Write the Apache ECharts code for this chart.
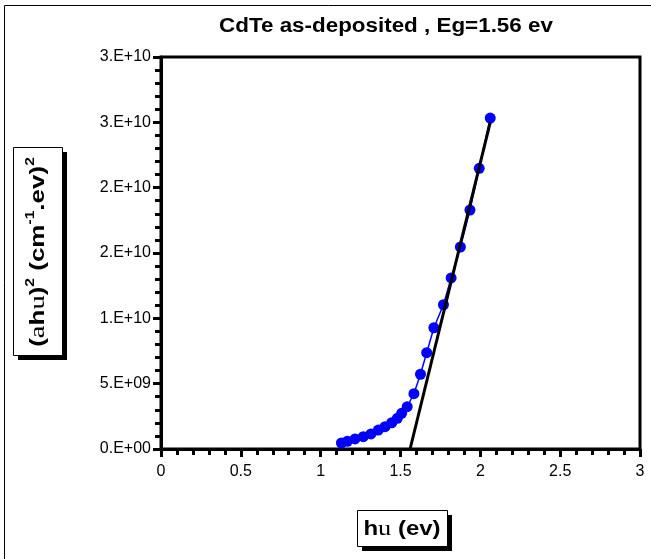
<!DOCTYPE html>
<html>
<head>
<meta charset="utf-8">
<script src="https://cdn.jsdelivr.net/npm/echarts@6/dist/echarts.min.js"></script>
<style>
  html, body { margin: 0; padding: 0; background: #fff; }
  #main { width: 651px; height: 559px; }
</style>
</head>
<body>
<div id="main"></div>
<script>
// measured points (photon energy in eV, (a h u)^2)
const hv = [1.130, 1.167, 1.215, 1.267, 1.315, 1.361, 1.403, 1.445, 1.480, 1.507,
  1.542, 1.584, 1.625, 1.664, 1.709, 1.769, 1.817, 1.875, 1.935, 1.993, 2.062];
const ahv2 = [0.46e9, 0.59e9, 0.77e9, 0.94e9, 1.15e9, 1.45e9, 1.71e9, 2.01e9, 2.35e9, 2.73e9,
  3.24e9, 4.23e9, 5.72e9, 7.37e9, 9.28e9, 11.04e9, 13.09e9, 15.46e9, 18.29e9, 21.48e9, 25.33e9];
// straight-line fit, meets the x axis at Eg
const fitX = [1.56, 2.062];
const fitY = [0, 2.5e10];

const titleText = "CdTe as-deposited , Eg=1.56 ev";

const chart = echarts.init(document.getElementById("main"));

// Excel style "0.E+00" labels
function sciLabel(v) {
  if (v === 0) return "0.E+00";
  let e = Math.floor(Math.log10(v));
  let m = Math.round(v / Math.pow(10, e));
  if (m === 10) { m = 1; e += 1; }
  return m + ".E+" + (e < 10 ? "0" + e : e);
}

const sans = "Liberation Sans, Arial, sans-serif";
const serif = "Liberation Serif, Times New Roman, serif";

const option = {
  backgroundColor: "#fff",
  animation: false,
  grid: {
    left: 161, right: 11, top: 57, bottom: 110,
    show: true, borderColor: "#000", borderWidth: 3, backgroundColor: "#fff"
  },
  xAxis: {
    type: "value", min: 0, max: 3, interval: 0.5,
    axisLine: { lineStyle: { color: "#000", width: 3 } },
    axisTick: { show: true, length: 8, lineStyle: { color: "#000", width: 3 } },
    minorTick: { show: true, splitNumber: 5, length: 6, lineStyle: { color: "#000", width: 3 } },
    splitLine: { show: false },
    axisLabel: { color: "#000", fontFamily: sans, fontSize: 16, margin: 15 }
  },
  yAxis: {
    type: "value", min: 0, max: 3e10, interval: 5e9,
    axisLine: { lineStyle: { color: "#000", width: 3 } },
    axisTick: { show: true, length: 8, lineStyle: { color: "#000", width: 3 } },
    minorTick: { show: true, splitNumber: 5, length: 6, lineStyle: { color: "#000", width: 3 } },
    splitLine: { show: false },
    axisLabel: { color: "#000", fontFamily: sans, fontSize: 16, margin: 10, formatter: sciLabel }
  },
  series: [
    {
      type: "line",
      data: hv.map((x, i) => [x, ahv2[i]]),
      symbol: "circle", symbolSize: 11,
      itemStyle: { color: "#0000ff" },
      lineStyle: { color: "#0000ff", width: 1.5 },
      z: 3
    },
    {
      type: "line",
      data: fitX.map((x, i) => [x, fitY[i]]),
      symbol: "none",
      lineStyle: { color: "#000", width: 3 },
      z: 4
    }
  ],
  graphic: [
    // outer frame
    { type: "rect", shape: { x: 4.5, y: 5.5, width: 700, height: 700 },
      style: { fill: "none", stroke: "#000", lineWidth: 1 }, z: 0 },
    { type: "text", x: 386, y: 26, scaleX: 1.12,
      style: { text: titleText, font: "bold 20px " + sans, fill: "#000",
        textAlign: "center", textVerticalAlign: "middle" } },
    // y axis title box
    { type: "rect", shape: { x: 18, y: 152, width: 49, height: 208 }, style: { fill: "#000" } },
    { type: "rect", shape: { x: 13.5, y: 147.5, width: 49, height: 208 },
      style: { fill: "#fff", stroke: "#000", lineWidth: 1 } },
    { type: "text", x: 38, y: 252, rotation: Math.PI / 2, scaleX: 1.3,
      style: {
        text: "{b|(}{g|a}{b|h}{g|u}{b|)}{s|2}{b| (cm}{s|-1}{b|.ev)}{s|2}",
        textAlign: "center", textVerticalAlign: "middle",
        rich: {
          b: { fontFamily: sans, fontWeight: "bold", fontSize: 20, fill: "#000", lineHeight: 26 },
          g: { fontFamily: serif, fontSize: 22, fill: "#000", lineHeight: 26 },
          s: { fontFamily: sans, fontWeight: "bold", fontSize: 12, fill: "#000",
            lineHeight: 26, verticalAlign: "top" }
        }
      } },
    // x axis title box
    { type: "rect", shape: { x: 362, y: 515, width: 90, height: 36 }, style: { fill: "#000" } },
    { type: "rect", shape: { x: 357.5, y: 510.5, width: 90, height: 36 },
      style: { fill: "#fff", stroke: "#000", lineWidth: 1 } },
    { type: "text", x: 402, y: 529, scaleX: 1.2,
      style: {
        text: "{b|h}{g|u}{b| (ev)}",
        textAlign: "center", textVerticalAlign: "middle",
        rich: {
          b: { fontFamily: sans, fontWeight: "bold", fontSize: 20, fill: "#000", lineHeight: 26 },
          g: { fontFamily: serif, fontSize: 22, fill: "#000", lineHeight: 26 }
        }
      } }
  ]
};

chart.setOption(option);
</script>
</body>
</html>
